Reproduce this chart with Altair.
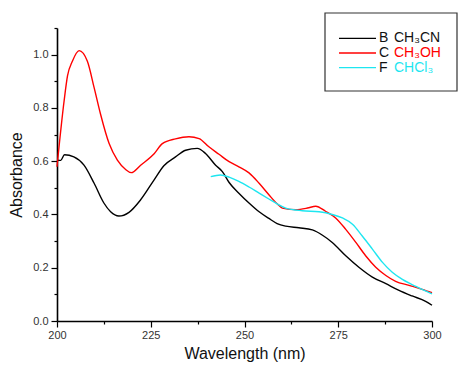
import altair as alt
import pandas as pd

# CH3CN (black)
wl_b = [200, 201, 202, 204.5, 207.2, 209.9, 212.5, 214.3, 216.5, 219.2, 222.3, 225.9, 228.5,
        231.6, 234.3, 237.4, 239.6, 242.3, 244.1, 245.9, 248.5, 251.2, 253.9, 256.5, 258.7,
        261, 264.5, 268.1, 270.8, 273.4, 277, 280.5, 284.1, 287.7, 291.2, 294.7, 298.3, 300]
ab_b = [0.604, 0.603, 0.624, 0.616, 0.585, 0.517, 0.443, 0.41, 0.394, 0.408, 0.455, 0.53, 0.583,
        0.616, 0.641, 0.648, 0.629, 0.585, 0.561, 0.52, 0.48, 0.443, 0.41, 0.385, 0.366,
        0.356, 0.35, 0.342, 0.322, 0.295, 0.245, 0.202, 0.165, 0.14, 0.115, 0.094, 0.074, 0.059]

# CH3OH (red)
wl_c = [200, 201.9, 202.8, 204.1, 205.9, 208.1, 209.9, 211.6, 213.9, 216.1, 218.3, 219.8, 222.3,
        225.9, 228.1, 231.6, 235.2, 237.9, 240.5, 243.2, 245.9, 248.5, 251.2, 253.9, 256.5,
        258.7, 260.1, 263.7, 266.8, 269, 271.6, 274.3, 277, 279.7, 282.3, 285, 287.7, 290.3,
        293.9, 297.4, 300]
ab_c = [0.579, 0.827, 0.92, 0.975, 1.015, 0.975, 0.876, 0.777, 0.666, 0.604, 0.569, 0.557, 0.585,
        0.628, 0.666, 0.684, 0.692, 0.685, 0.654, 0.626, 0.598, 0.579, 0.556, 0.517, 0.474,
        0.44, 0.424, 0.418, 0.424, 0.431, 0.412, 0.387, 0.344, 0.295, 0.245, 0.202, 0.171, 0.149,
        0.134, 0.119, 0.106]

# CHCl3 (cyan)
wl_f = [241, 243.6, 245.9, 248.5, 251.2, 253.9, 256.5, 258.7, 261, 265.4, 269.9, 273.4, 276.1,
        278.8, 281.4, 284.1, 286.8, 289.4, 292.1, 295.7, 300]
ab_f = [0.542, 0.548, 0.54, 0.524, 0.503, 0.48, 0.458, 0.44, 0.424, 0.414, 0.41, 0.4, 0.387,
        0.363, 0.319, 0.27, 0.22, 0.183, 0.156, 0.13, 0.102]

series = ["CH3CN", "CH3OH", "CHCl3"]
colors = ["#000000", "#ff0000", "#1ee6f0"]

rows = []
for name, wls, abs_ in [("CH3CN", wl_b, ab_b), ("CH3OH", wl_c, ab_c), ("CHCl3", wl_f, ab_f)]:
    for w, a in zip(wls, abs_):
        rows.append({"series": name, "wl": w, "A": a})
df = pd.DataFrame(rows)

x_vals = [200 + 12.5 * i for i in range(9)]
y_vals = [round(0.1 * i, 1) for i in range(12)]

x_axis = alt.Axis(
    values=x_vals, title="Wavelength (nm)", grid=False,
    labelExpr="datum.value % 25 == 0 ? format(datum.value, 'd') : ''",
    tickSize={"condition": {"test": "datum.value % 25 == 0", "value": 6}, "value": 3},
    domainColor="#000", domainWidth=1.6, tickColor="#000", tickWidth=1.2,
    labelColor="#333", labelFont="Liberation Sans", labelFontSize=11, labelPadding=2,
    titleFont="Liberation Sans", titleFontSize=16, titleFontWeight="normal",
    titleColor="#111", titlePadding=5, labelFlush=False,
)
y_axis = alt.Axis(
    values=y_vals, title="Absorbance", grid=False,
    labelExpr="round(datum.value*10) % 2 == 0 && datum.value < 1.05 ? format(datum.value, '.1f') : ''",
    tickSize={"condition": {"test": "round(datum.value*10) % 2 == 0", "value": 6}, "value": 3},
    domainColor="#000", domainWidth=1.6, tickColor="#000", tickWidth=1.2,
    labelColor="#333", labelFont="Liberation Sans", labelFontSize=11, labelPadding=3,
    titleFont="Liberation Sans", titleFontSize=16, titleFontWeight="normal",
    titleColor="#111", titlePadding=8, labelFlush=False,
)

lines = alt.Chart(df).mark_line(strokeWidth=1.4, interpolate="monotone").encode(
    x=alt.X("wl:Q", scale=alt.Scale(domain=[200, 300], nice=False), axis=x_axis),
    y=alt.Y("A:Q", scale=alt.Scale(domain=[0, 1.1], nice=False), axis=y_axis),
    color=alt.Color("series:N", scale=alt.Scale(domain=series, range=colors), legend=None),
    detail="series:N",
)

# manual legend box
box = alt.Chart(pd.DataFrame({"a": [0]})).mark_rect(
    fill="white", stroke="#333", strokeWidth=1.2
).encode(x=alt.value(268), x2=alt.value(400), y=alt.value(-15), y2=alt.value(63))

leg_df = pd.DataFrame({
    "letter": ["B", "C", "F"],
    "name": ["CH₃CN", "CH₃OH", "CHCl₃"],
    "series": series,
    "row": [0, 1, 2],
})
leg_y = alt.Y("row:O", scale=alt.Scale(domain=[0, 1, 2], range=[3, 47]), axis=None)
leg_lines = alt.Chart(leg_df).mark_rule(strokeWidth=1.4).encode(
    x=alt.value(282), x2=alt.value(319), y=leg_y,
    color=alt.Color("series:N", scale=alt.Scale(domain=series, range=colors), legend=None),
)
leg_letters = alt.Chart(leg_df).mark_text(
    align="left", baseline="middle", font="Liberation Sans", fontSize=14, color="#111"
).encode(x=alt.value(322), y=leg_y, text="letter:N")
leg_names = alt.Chart(leg_df).mark_text(
    align="left", baseline="middle", font="Liberation Sans", fontSize=14
).encode(
    x=alt.value(337), y=leg_y, text="name:N",
    color=alt.Color("series:N", scale=alt.Scale(domain=series, range=["#111111", "#ff0000", "#1ee6f0"]), legend=None),
)

chart = alt.layer(lines, box, leg_lines, leg_letters, leg_names).resolve_scale(
    color="independent", y="independent"
).properties(
    width=375, height=293,
    padding={"left": 0, "top": 4, "right": 0, "bottom": 3},
).configure_view(stroke=None).configure_axis(labelFont="Liberation Sans")

chart.save("out.html", embed_options={"renderer": "svg", "actions": False})
